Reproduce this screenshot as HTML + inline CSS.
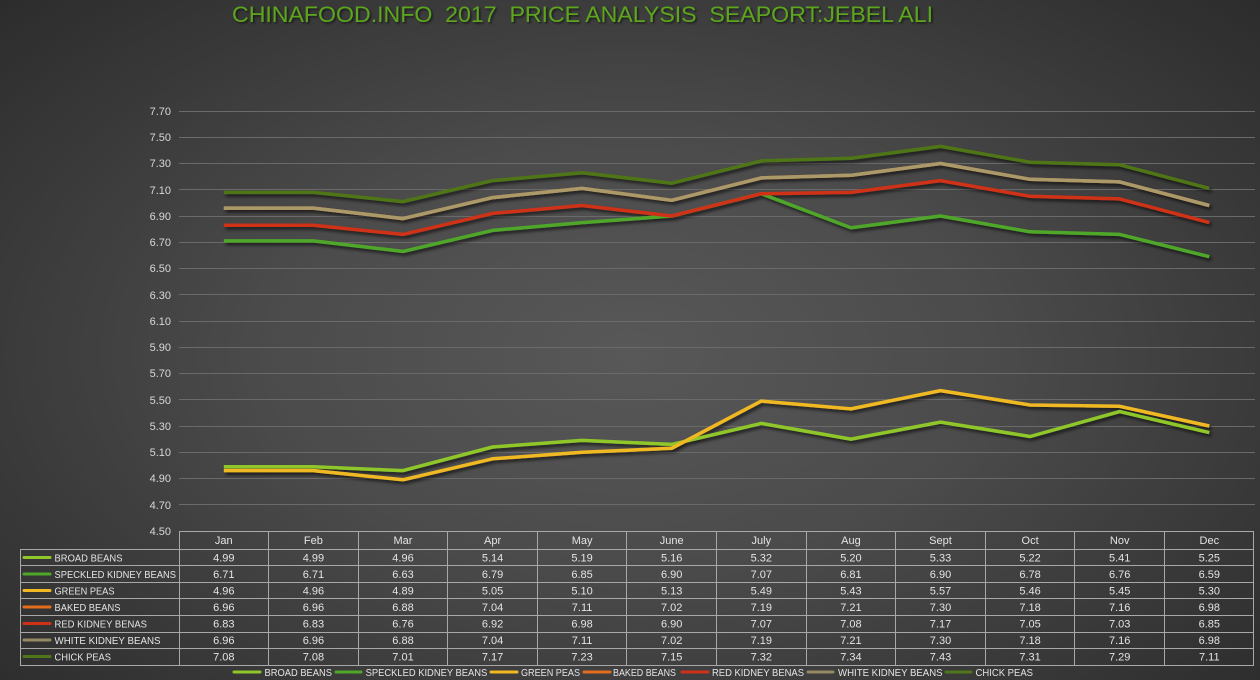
<!DOCTYPE html>
<html><head><meta charset="utf-8">
<style>
html,body{margin:0;padding:0;}
body{width:1260px;height:680px;overflow:hidden;background:radial-gradient(ellipse 72% 78% at 50% 52%, #585858 0%, #4b4b4b 40%, #3a3a3a 70%, #2a2a2a 100%);}
svg{position:absolute;left:0;top:0;}
text{font-family:"Liberation Sans","DejaVu Sans",sans-serif;}
</style></head>
<body>
<svg width="1260" height="680" viewBox="0 0 1260 680" xmlns="http://www.w3.org/2000/svg">
<defs>
<filter id="sh" x="-5%" y="-20%" width="110%" height="140%">
<feDropShadow dx="2" dy="2.5" stdDeviation="1.6" flood-color="#000" flood-opacity="0.65"/>
</filter>
<filter id="tsh" x="-5%" y="-30%" width="110%" height="160%">
<feDropShadow dx="1.5" dy="1.5" stdDeviation="1" flood-color="#000" flood-opacity="0.6"/>
</filter>
</defs>

<!-- Title -->
<text x="232" y="22" font-size="22" fill="#5ba51f" style="white-space:pre" xml:space="preserve" textLength="701" lengthAdjust="spacingAndGlyphs" filter="url(#tsh)">CHINAFOOD.INFO  2017  PRICE ANALYSIS  SEAPORT:JEBEL ALI</text>

<!-- Gridlines -->
<g stroke="#6a6a6a" stroke-width="1">
<line x1="179" x2="1255" y1="111.5" y2="111.5"/>
<line x1="179" x2="1255" y1="137.5" y2="137.5"/>
<line x1="179" x2="1255" y1="163.5" y2="163.5"/>
<line x1="179" x2="1255" y1="189.5" y2="189.5"/>
<line x1="179" x2="1255" y1="216.5" y2="216.5"/>
<line x1="179" x2="1255" y1="242.5" y2="242.5"/>
<line x1="179" x2="1255" y1="268.5" y2="268.5"/>
<line x1="179" x2="1255" y1="294.5" y2="294.5"/>
<line x1="179" x2="1255" y1="321.5" y2="321.5"/>
<line x1="179" x2="1255" y1="347.5" y2="347.5"/>
<line x1="179" x2="1255" y1="373.5" y2="373.5"/>
<line x1="179" x2="1255" y1="399.5" y2="399.5"/>
<line x1="179" x2="1255" y1="426.5" y2="426.5"/>
<line x1="179" x2="1255" y1="452.5" y2="452.5"/>
<line x1="179" x2="1255" y1="478.5" y2="478.5"/>
<line x1="179" x2="1255" y1="504.5" y2="504.5"/>
</g>

<!-- Y labels -->
<g font-size="11" fill="#d8d8d8" text-anchor="end">
<text x="171" y="115">7.70</text>
<text x="171" y="141">7.50</text>
<text x="171" y="167">7.30</text>
<text x="171" y="194">7.10</text>
<text x="171" y="220">6.90</text>
<text x="171" y="246">6.70</text>
<text x="171" y="272">6.50</text>
<text x="171" y="299">6.30</text>
<text x="171" y="325">6.10</text>
<text x="171" y="351">5.90</text>
<text x="171" y="377">5.70</text>
<text x="171" y="404">5.50</text>
<text x="171" y="430">5.30</text>
<text x="171" y="456">5.10</text>
<text x="171" y="482">4.90</text>
<text x="171" y="509">4.70</text>
<text x="171" y="535">4.50</text>
</g>

<!-- Series -->
<g fill="none" stroke-width="3.5" stroke-linejoin="round" filter="url(#sh)">
<polyline stroke="#8fc62a" points="223.8,466.7 313.4,466.7 403,470.6 492.6,447 582.1,440.4 671.7,444.4 761.3,423.4 850.9,439.1 940.5,422.1 1030.1,436.5 1119.7,411.6 1209.3,432.6"/>
<polyline stroke="#4fa72a" points="223.8,240.9 313.4,240.9 403,251.4 492.6,230.4 582.1,222.6 671.7,216 761.3,193.7 850.9,227.8 940.5,216 1030.1,231.8 1119.7,234.4 1209.3,256.7"/>
<polyline stroke="#f0b822" points="223.8,470.6 313.4,470.6 403,479.8 492.6,458.8 582.1,452.3 671.7,448.3 761.3,401.1 850.9,408.9 940.5,390.6 1030.1,405 1119.7,406.3 1209.3,426"/>
<polyline stroke="#e46c1e" points="223.8,208.1 313.4,208.1 403,218.6 492.6,197.6 582.1,188.4 671.7,200.3 761.3,177.9 850.9,175.3 940.5,163.5 1030.1,179.3 1119.7,181.9 1209.3,205.5"/>
<polyline stroke="#cf3219" points="223.8,225.2 313.4,225.2 403,234.4 492.6,213.4 582.1,205.5 671.7,216 761.3,193.7 850.9,192.4 940.5,180.6 1030.1,196.3 1119.7,198.9 1209.3,222.6"/>
<polyline stroke="#aa9a6b" points="223.8,208.1 313.4,208.1 403,218.6 492.6,197.6 582.1,188.4 671.7,200.3 761.3,177.9 850.9,175.3 940.5,163.5 1030.1,179.3 1119.7,181.9 1209.3,205.5"/>
<polyline stroke="#4f7619" points="223.8,192.4 313.4,192.4 403,201.6 492.6,180.6 582.1,172.7 671.7,183.2 761.3,160.9 850.9,158.3 940.5,146.4 1030.1,162.2 1119.7,164.8 1209.3,188.4"/>
</g>

<!-- Table lines -->
<g stroke="#a8a8a8" stroke-width="1" fill="none">
<line x1="179" x2="1254" y1="531.5" y2="531.5"/>
<line x1="20" x2="1254" y1="549.5" y2="549.5"/>
<line x1="20" x2="1254" y1="565.5" y2="565.5"/>
<line x1="20" x2="1254" y1="582.5" y2="582.5"/>
<line x1="20" x2="1254" y1="598.5" y2="598.5"/>
<line x1="20" x2="1254" y1="615.5" y2="615.5"/>
<line x1="20" x2="1254" y1="632.5" y2="632.5"/>
<line x1="20" x2="1254" y1="648.5" y2="648.5"/>
<line x1="20" x2="1254" y1="665.5" y2="665.5"/>
<line x1="20.5" x2="20.5" y1="549" y2="665.5"/>
<line x1="179.5" x2="179.5" y1="531" y2="665.5"/>
<line x1="268.5" x2="268.5" y1="531" y2="665.5"/>
<line x1="358.5" x2="358.5" y1="531" y2="665.5"/>
<line x1="447.5" x2="447.5" y1="531" y2="665.5"/>
<line x1="537.5" x2="537.5" y1="531" y2="665.5"/>
<line x1="626.5" x2="626.5" y1="531" y2="665.5"/>
<line x1="716.5" x2="716.5" y1="531" y2="665.5"/>
<line x1="806.5" x2="806.5" y1="531" y2="665.5"/>
<line x1="895.5" x2="895.5" y1="531" y2="665.5"/>
<line x1="985.5" x2="985.5" y1="531" y2="665.5"/>
<line x1="1074.5" x2="1074.5" y1="531" y2="665.5"/>
<line x1="1164.5" x2="1164.5" y1="531" y2="665.5"/>
<line x1="1253.5" x2="1253.5" y1="531" y2="665.5"/>
</g>

<!-- Table swatches -->
<g stroke-width="3" stroke-linecap="round">
<line x1="24" x2="50" y1="557.5" y2="557.5" stroke="#8fc62a"/>
<line x1="24" x2="50" y1="574" y2="574" stroke="#4fa72a"/>
<line x1="24" x2="50" y1="590.5" y2="590.5" stroke="#f0b822"/>
<line x1="24" x2="50" y1="607" y2="607" stroke="#e46c1e"/>
<line x1="24" x2="50" y1="623.5" y2="623.5" stroke="#cf3219"/>
<line x1="24" x2="50" y1="640" y2="640" stroke="#958a63"/>
<line x1="24" x2="50" y1="656.5" y2="656.5" stroke="#4f7619"/>
</g>

<!-- Table row labels -->
<g font-size="10" fill="#e4e4e4">
<text x="54.5" y="561.5" textLength="68" lengthAdjust="spacingAndGlyphs">BROAD BEANS</text>
<text x="54.5" y="578" textLength="121.5" lengthAdjust="spacingAndGlyphs">SPECKLED KIDNEY BEANS</text>
<text x="54.5" y="594.5" textLength="60" lengthAdjust="spacingAndGlyphs">GREEN PEAS</text>
<text x="54.5" y="611" textLength="66" lengthAdjust="spacingAndGlyphs">BAKED BEANS</text>
<text x="54.5" y="627.5" textLength="92.5" lengthAdjust="spacingAndGlyphs">RED KIDNEY BENAS</text>
<text x="54.5" y="644" textLength="106" lengthAdjust="spacingAndGlyphs">WHITE KIDNEY BEANS</text>
<text x="54.5" y="660.5" textLength="56.5" lengthAdjust="spacingAndGlyphs">CHICK PEAS</text>
</g>

<!-- Table header & values -->
<g font-size="11" fill="#e4e4e4" text-anchor="middle">
<text x="223.8" y="544">Jan</text><text x="313.4" y="544">Feb</text><text x="403" y="544">Mar</text><text x="492.6" y="544">Apr</text><text x="582.1" y="544">May</text><text x="671.7" y="544">June</text><text x="761.3" y="544">July</text><text x="850.9" y="544">Aug</text><text x="940.5" y="544">Sept</text><text x="1030.1" y="544">Oct</text><text x="1119.7" y="544">Nov</text><text x="1209.3" y="544">Dec</text>

<text x="223.8" y="561.5">4.99</text><text x="313.4" y="561.5">4.99</text><text x="403" y="561.5">4.96</text><text x="492.6" y="561.5">5.14</text><text x="582.1" y="561.5">5.19</text><text x="671.7" y="561.5">5.16</text><text x="761.3" y="561.5">5.32</text><text x="850.9" y="561.5">5.20</text><text x="940.5" y="561.5">5.33</text><text x="1030.1" y="561.5">5.22</text><text x="1119.7" y="561.5">5.41</text><text x="1209.3" y="561.5">5.25</text>

<text x="223.8" y="578">6.71</text><text x="313.4" y="578">6.71</text><text x="403" y="578">6.63</text><text x="492.6" y="578">6.79</text><text x="582.1" y="578">6.85</text><text x="671.7" y="578">6.90</text><text x="761.3" y="578">7.07</text><text x="850.9" y="578">6.81</text><text x="940.5" y="578">6.90</text><text x="1030.1" y="578">6.78</text><text x="1119.7" y="578">6.76</text><text x="1209.3" y="578">6.59</text>

<text x="223.8" y="594.5">4.96</text><text x="313.4" y="594.5">4.96</text><text x="403" y="594.5">4.89</text><text x="492.6" y="594.5">5.05</text><text x="582.1" y="594.5">5.10</text><text x="671.7" y="594.5">5.13</text><text x="761.3" y="594.5">5.49</text><text x="850.9" y="594.5">5.43</text><text x="940.5" y="594.5">5.57</text><text x="1030.1" y="594.5">5.46</text><text x="1119.7" y="594.5">5.45</text><text x="1209.3" y="594.5">5.30</text>

<text x="223.8" y="611">6.96</text><text x="313.4" y="611">6.96</text><text x="403" y="611">6.88</text><text x="492.6" y="611">7.04</text><text x="582.1" y="611">7.11</text><text x="671.7" y="611">7.02</text><text x="761.3" y="611">7.19</text><text x="850.9" y="611">7.21</text><text x="940.5" y="611">7.30</text><text x="1030.1" y="611">7.18</text><text x="1119.7" y="611">7.16</text><text x="1209.3" y="611">6.98</text>

<text x="223.8" y="627.5">6.83</text><text x="313.4" y="627.5">6.83</text><text x="403" y="627.5">6.76</text><text x="492.6" y="627.5">6.92</text><text x="582.1" y="627.5">6.98</text><text x="671.7" y="627.5">6.90</text><text x="761.3" y="627.5">7.07</text><text x="850.9" y="627.5">7.08</text><text x="940.5" y="627.5">7.17</text><text x="1030.1" y="627.5">7.05</text><text x="1119.7" y="627.5">7.03</text><text x="1209.3" y="627.5">6.85</text>

<text x="223.8" y="644">6.96</text><text x="313.4" y="644">6.96</text><text x="403" y="644">6.88</text><text x="492.6" y="644">7.04</text><text x="582.1" y="644">7.11</text><text x="671.7" y="644">7.02</text><text x="761.3" y="644">7.19</text><text x="850.9" y="644">7.21</text><text x="940.5" y="644">7.30</text><text x="1030.1" y="644">7.18</text><text x="1119.7" y="644">7.16</text><text x="1209.3" y="644">6.98</text>

<text x="223.8" y="660.5">7.08</text><text x="313.4" y="660.5">7.08</text><text x="403" y="660.5">7.01</text><text x="492.6" y="660.5">7.17</text><text x="582.1" y="660.5">7.23</text><text x="671.7" y="660.5">7.15</text><text x="761.3" y="660.5">7.32</text><text x="850.9" y="660.5">7.34</text><text x="940.5" y="660.5">7.43</text><text x="1030.1" y="660.5">7.31</text><text x="1119.7" y="660.5">7.29</text><text x="1209.3" y="660.5">7.11</text>
</g>

<!-- Bottom legend -->
<g stroke-width="3" stroke-linecap="round">
<line x1="234" x2="260" y1="672" y2="672" stroke="#8fc62a"/>
<line x1="336" x2="361" y1="672" y2="672" stroke="#4fa72a"/>
<line x1="491" x2="517" y1="672" y2="672" stroke="#f0b822"/>
<line x1="584" x2="610" y1="672" y2="672" stroke="#e46c1e"/>
<line x1="682" x2="708" y1="672" y2="672" stroke="#cf3219"/>
<line x1="808" x2="833" y1="672" y2="672" stroke="#958a63"/>
<line x1="946" x2="971" y1="672" y2="672" stroke="#4f7619"/>
</g>
<g font-size="10" fill="#e4e4e4">
<text x="264.5" y="676" textLength="67.5" lengthAdjust="spacingAndGlyphs">BROAD BEANS</text>
<text x="365.6" y="676" textLength="121.7" lengthAdjust="spacingAndGlyphs">SPECKLED KIDNEY BEANS</text>
<text x="521" y="676" textLength="59" lengthAdjust="spacingAndGlyphs">GREEN PEAS</text>
<text x="613" y="676" textLength="63" lengthAdjust="spacingAndGlyphs">BAKED BEANS</text>
<text x="712" y="676" textLength="92" lengthAdjust="spacingAndGlyphs">RED KIDNEY BENAS</text>
<text x="838" y="676" textLength="104.6" lengthAdjust="spacingAndGlyphs">WHITE KIDNEY BEANS</text>
<text x="975.5" y="676" textLength="57.5" lengthAdjust="spacingAndGlyphs">CHICK PEAS</text>
</g>
</svg>
</body></html>
